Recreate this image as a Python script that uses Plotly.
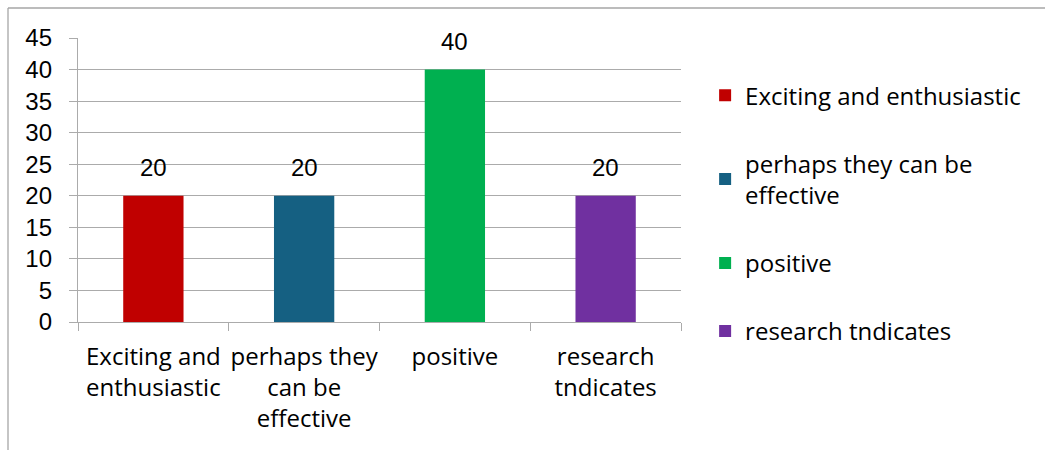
import plotly.graph_objects as go

# Survey response counts per category
categories = ["Exciting and enthusiastic", "perhaps they can be effective", "positive", "research tndicates"]
tick_labels = ["Exciting and<br>enthusiastic", "perhaps they<br>can be<br>effective", "positive", "research<br>tndicates"]
legend_labels = ["Exciting and enthusiastic", "perhaps they can be<br>effective", "positive", "research tndicates"]
values = [20, 20, 40, 20]
colors = ["#C00000", "#156082", "#00B050", "#7030A0"]

GRID = "#ABABAB"
NUM_FONT = "Liberation Sans, Arial, sans-serif"
TXT_FONT = "Open Sans, Liberation Sans, sans-serif"

fig = go.Figure()
for cat, leg, val, col in zip(categories, legend_labels, values, colors):
    fig.add_trace(go.Bar(
        x=[cat], y=[val], name=leg, marker=dict(color=col, line=dict(width=0)),
        width=0.4, legendgroup=cat,
    ))
    # value label above each bar
    fig.add_annotation(
        x=cat, y=val, text=str(val), showarrow=False, yshift=28,
        font=dict(size=24, color="#000000", family=NUM_FONT),
    )

fig.update_layout(
    width=1045, height=450,
    margin=dict(l=78, r=364, t=38, b=128, autoexpand=False),
    paper_bgcolor="white", plot_bgcolor="white",
    barmode="overlay",
    font=dict(family=NUM_FONT, size=24, color="#000000"),
    showlegend=True,
    legend=dict(
        x=1.040, xanchor="left", y=0.876, yanchor="top",
        font=dict(size=24, family=TXT_FONT, color="#000000"),
        tracegroupgap=34, itemwidth=30, bgcolor="rgba(0,0,0,0)",
        maxheight=1.0,
    ),
)

fig.update_xaxes(
    type="category", categoryorder="array", categoryarray=categories,
    tickvals=categories, ticktext=tick_labels, tickangle=0, automargin=False,
    showline=True, linecolor=GRID, linewidth=1.3,
    ticks="outside", tickson="boundaries", ticklen=8, tickcolor=GRID, tickwidth=1.3,
    showgrid=False, ticklabelstandoff=13,
    tickfont=dict(size=24, family=TXT_FONT, color="#000000"),
)
fig.update_yaxes(
    range=[0, 45], dtick=5, tick0=0, automargin=False,
    showline=True, linecolor=GRID, linewidth=1.3,
    ticks="outside", ticklen=8, tickcolor=GRID, tickwidth=1.3,
    showgrid=True, gridcolor=GRID, gridwidth=1.3, zeroline=False,
    ticklabelstandoff=12, tickfont=dict(size=24, family=NUM_FONT, color="#000000"),
)

# chart frame (top and left edges)
x0 = (8 - 78) / 603
y0 = (322 - 8) / 284
fig.add_shape(type="line", xref="paper", yref="paper", x0=x0, x1=2.0, y0=y0, y1=y0,
              line=dict(color="#A6A6A6", width=1.3))
fig.add_shape(type="line", xref="paper", yref="paper", x0=x0, x1=x0, y0=y0, y1=-1.0,
              line=dict(color="#A6A6A6", width=1.3))

fig.write_html("out.html")
